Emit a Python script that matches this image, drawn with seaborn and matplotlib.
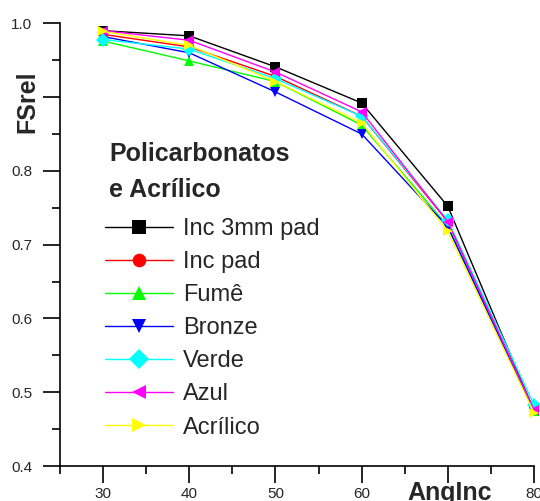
import matplotlib
matplotlib.use("Agg")
import matplotlib.pyplot as plt
import seaborn as sns
import pandas as pd
from matplotlib.ticker import MultipleLocator

# ---- data ----
ang = [30, 40, 50, 60, 70, 80]
inc_3mm_pad = [0.990, 0.983, 0.941, 0.892, 0.752, 0.475]
inc_pad     = [0.985, 0.968, 0.928, 0.874, 0.731, 0.476]
fume        = [0.976, 0.949, 0.921, 0.862, 0.725, 0.474]
bronze      = [0.982, 0.960, 0.907, 0.850, 0.724, 0.475]
verde       = [0.978, 0.965, 0.925, 0.874, 0.733, 0.483]
azul        = [0.990, 0.977, 0.934, 0.880, 0.731, 0.476]
acrilico    = [0.989, 0.970, 0.921, 0.865, 0.718, 0.472]

series_names = ["Inc 3mm pad", "Inc pad", "Fumê", "Bronze", "Verde", "Azul", "Acrílico"]
series_vals = [inc_3mm_pad, inc_pad, fume, bronze, verde, azul, acrilico]
colors = ["#000000", "#ff0000", "#00ff00", "#0000ff", "#00ffff", "#ff00ff", "#ffff00"]
markers = ["s", "o", "^", "v", "D", "<", ">"]

x_ticks = [30, 40, 50, 60, 70, 80]
x_tick_labels = ["30", "40", "50", "60", "", "80"]
y_ticks = [0.4, 0.5, 0.6, 0.7, 0.8, 0.9, 1.0]
y_tick_labels = ["0.4", "0.5", "0.6", "0.7", "0.8", "", "1.0"]

title_lines = ["Policarbonatos", "e Acrílico"]
x_label = "AngInc"
y_label = "FSrel"

rows = []
for name, vals in zip(series_names, series_vals):
    for a, v in zip(ang, vals):
        rows.append({"AngInc": a, "FSrel": v, "Série": name})
df = pd.DataFrame(rows)

sns.set_style("ticks")
plt.rcParams["font.family"] = ["Liberation Sans", "DejaVu Sans"]

W, H = 540, 501
fig = plt.figure(figsize=(W / 100, H / 100), dpi=100)
ax = fig.add_axes([60 / W, (H - 466) / H, (534 - 60) / W, (466 - 23.3) / H])

sns.lineplot(
    data=df, x="AngInc", y="FSrel", hue="Série", style="Série",
    hue_order=series_names, style_order=series_names,
    palette=dict(zip(series_names, colors)),
    markers=dict(zip(series_names, markers)), dashes=False,
    linewidth=1.0, markersize=7, markeredgewidth=0,
    ax=ax, clip_on=False, legend=True,
)

ax.set_xlim(25, 80)
ax.set_ylim(0.4, 1.0)
ax.set_xticks(x_ticks)
ax.set_xticklabels(x_tick_labels)
ax.set_yticks(y_ticks)
ax.set_yticklabels(y_tick_labels)
ax.xaxis.set_minor_locator(MultipleLocator(5))
ax.yaxis.set_minor_locator(MultipleLocator(0.05))
ax.tick_params(axis="both", which="major", length=12, width=1.2, color="black",
               labelsize=11, direction="out")
ax.tick_params(axis="both", which="minor", length=6, width=1.2, color="black", direction="out")
ax.tick_params(axis="x", pad=3)
ax.tick_params(axis="y", pad=8)
ax.set_xlabel("")
ax.set_ylabel("")
for s in ["top", "right"]:
    ax.spines[s].set_visible(False)
for s in ["left", "bottom"]:
    ax.spines[s].set_linewidth(1.2)
    ax.spines[s].set_color("black")

handles, labels = ax.get_legend_handles_labels()
ax.get_legend().remove()
leg = fig.legend(
    handles, labels, loc="upper left",
    bbox_to_anchor=(105 / W, 1 - 218 / H), bbox_transform=fig.transFigure,
    frameon=False, fontsize=17, handlelength=2.9, handletextpad=0.4,
    labelspacing=0.47, borderpad=0, borderaxespad=0, markerscale=1.4,
)

fig.text(109 / W, 1 - 161 / H, title_lines[0], fontsize=18, fontweight="bold", va="baseline", ha="left")
fig.text(109 / W, 1 - 196.7 / H, title_lines[1], fontsize=18, fontweight="bold", va="baseline", ha="left")
fig.text(27 / W, 1 - 101.5 / H, y_label, fontsize=18, fontweight="bold", rotation=90, va="center", ha="center")
fig.text(450 / W, 1 / H, x_label, fontsize=18, fontweight="bold", va="baseline", ha="center")

fig.savefig("out.png", dpi=100)
